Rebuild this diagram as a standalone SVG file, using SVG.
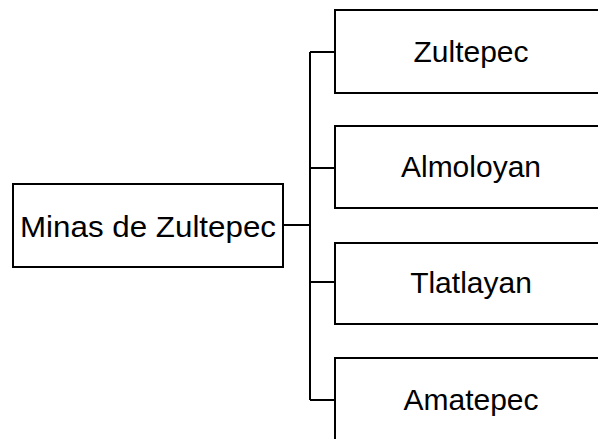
<svg xmlns="http://www.w3.org/2000/svg" width="598" height="439" viewBox="0 0 598 439">
<style>
.box{fill:#fff;stroke:#000;stroke-width:2}
.lbl{font-family:"Liberation Sans",Arial,sans-serif;font-size:30px;fill:#000;text-anchor:middle}
.con{fill:none;stroke:#000;stroke-width:2}
</style>
<rect width="598" height="439" fill="#fff"/>
<g id="connectors">
<path class="con" d="M283,225 H310 M310,52 V400 M310,52 H335 M310,168 H335 M310,282 H335 M310,400 H335"/>
</g>
<g id="root">
<rect class="box" x="13" y="184" width="270" height="83"/>
<text class="lbl" x="148" y="237" textLength="256" lengthAdjust="spacingAndGlyphs">Minas de Zultepec</text>
</g>
<g id="zultepec">
<rect class="box" x="335" y="10" width="272" height="83"/>
<text class="lbl" x="471" y="62">Zultepec</text>
</g>
<g id="almoloyan">
<rect class="box" x="335" y="126" width="272" height="82"/>
<text class="lbl" x="471" y="177">Almoloyan</text>
</g>
<g id="tlatlayan">
<rect class="box" x="335" y="243" width="272" height="81"/>
<text class="lbl" x="471" y="293">Tlatlayan</text>
</g>
<g id="amatepec">
<rect class="box" x="335" y="358" width="272" height="84"/>
<text class="lbl" x="471" y="410">Amatepec</text>
</g>
</svg>
